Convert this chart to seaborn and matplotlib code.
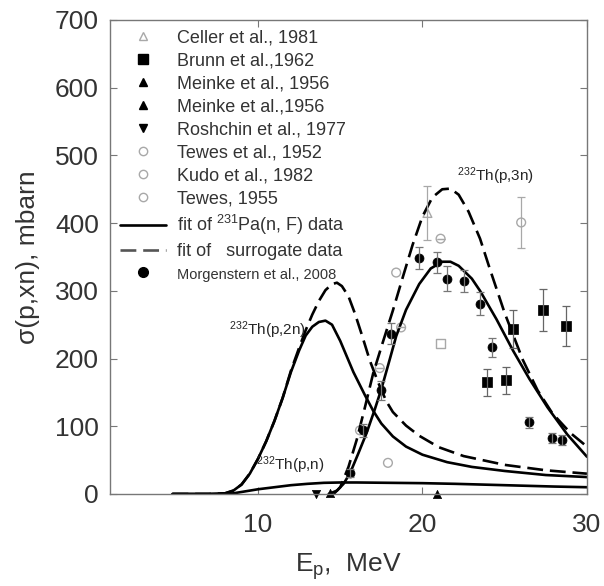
import matplotlib
matplotlib.use("Agg")
import matplotlib.pyplot as plt
from matplotlib.lines import Line2D
import seaborn as sns

sns.set_style("ticks")
plt.rcParams["font.family"] = ["Liberation Sans", "DejaVu Sans"]
plt.rcParams["mathtext.default"] = "regular"

# ---- fitted excitation functions (E_p in MeV, sigma in mbarn) ----
p2n_fit_E = [4.8, 7.0, 8.0, 8.5, 9.0, 9.5, 10.0, 10.5, 11.0, 11.5, 12.0, 12.5, 12.9, 13.3,
             13.7, 14.1, 14.5, 15.0, 15.8, 16.5, 17.0, 17.5, 18.2, 19.0, 20.0, 21.5, 23.0,
             25.0, 27.5, 30.0]
p2n_fit_s = [0, 0, 1, 5, 14, 30, 52, 78, 108, 142, 180, 212, 234, 247,
             254, 256, 250, 226, 180, 146, 123, 104, 85, 70, 58, 47, 40,
             34, 28, 25]

p2n_sur_E = [4.8, 7.0, 8.0, 8.5, 9.0, 9.5, 10.0, 10.5, 11.0, 11.5, 12.0, 12.5, 12.9, 13.3,
             13.7, 14.1, 14.5, 14.8, 15.1, 15.5, 15.9, 16.3, 16.8, 17.3, 17.8, 18.2, 19.0,
             19.8, 21.0, 22.5, 25.0, 27.5, 30.0]
p2n_sur_s = [0, 0, 1, 5, 14, 30, 52, 78, 108, 142, 182, 216, 242, 265,
             285, 301, 310, 312, 307, 292, 266, 236, 197, 165, 137, 121, 101,
             86, 69, 56, 43, 35, 30]

p3n_fit_E = [14.3, 14.8, 15.2, 15.6, 16.1, 16.6, 17.1, 17.5, 18.0, 18.4, 19.0, 19.8, 20.5,
             21.2, 21.7, 22.2, 23.0, 23.5, 24.5, 25.5, 26.5, 27.6, 28.8, 30.0]
p3n_fit_s = [0, 5, 15, 31, 60, 90, 125, 155, 198, 233, 272, 310, 333,
             343, 343, 337, 318, 300, 258, 212, 170, 128, 88, 55]

p3n_sur_E = [14.6, 15.0, 15.5, 16.0, 16.5, 17.0, 17.6, 18.2, 18.8, 19.4, 20.0, 20.6, 21.2,
             21.7, 22.2, 22.8, 23.5, 24.1, 25.0, 26.1, 27.0, 27.9, 29.0, 30.0]
p3n_sur_s = [0, 10, 40, 80, 128, 178, 225, 271, 320, 368, 410, 438, 450,
             451, 442, 417, 377, 332, 267, 198, 153, 119, 90, 70]

pn_fit_E = [4.8, 8.0, 8.5, 9.0, 10.0, 11.0, 12.0, 13.0, 14.0, 15.0, 16.0, 18.0, 20.0,
            22.0, 25.0, 28.0, 30.0]
pn_fit_s = [0, 0, 1, 3, 7, 10, 13, 15, 16.5, 17, 17, 16.5, 16, 15, 13, 11, 10]

# ---- measured cross sections ----
celler_E, celler_s, celler_err = [20.3], [415], [40]
brunn_E = [23.9, 25.1, 25.5, 27.3, 28.7]
brunn_s = [165, 168, 244, 271, 248]
brunn_err = [20, 20, 28, 31, 30]
meinke_a_E, meinke_a_s = [14.4], [2]
meinke_b_E, meinke_b_s = [20.9], [0]
roshchin_E, roshchin_s = [13.5], [0]
tewes52_E = [17.4, 18.7, 21.1, 26.0]
tewes52_s = [186, 246, 377, 401]
tewes52_err = [0, 0, 0, 37]
kudo_E = [16.2, 18.4, 17.9]
kudo_s = [94, 327, 46]
tewes55_E, tewes55_s = [21.1], [222]
morg_E = [15.6, 16.4, 17.5, 18.1, 19.8, 20.9, 21.5, 22.5, 23.5, 24.2, 26.5, 27.9, 28.5]
morg_s = [31, 94, 153, 237, 349, 342, 318, 315, 281, 217, 106, 83, 80]
morg_err = [6, 10, 14, 16, 16, 16, 18, 16, 17, 14, 8, 7, 7]

legend_labels = ["Celler et al., 1981", "Brunn et al.,1962", "Meinke et al., 1956",
                 "Meinke et al.,1956", "Roshchin et al., 1977", "Tewes et al., 1952",
                 "Kudo et al., 1982", "Tewes, 1955", "fit of $^{231}$Pa(n, F) data",
                 "fit of   surrogate data", "Morgenstern et al., 2008"]

x_ticks = [10, 20, 30]
y_ticks = [0, 100, 200, 300, 400, 500, 600, 700]

GREY = "#a8a8a8"
DASH = (0, (6, 2.6))

fig = plt.figure(figsize=(6.04, 5.86), dpi=100)
ax = fig.add_axes([0.1821, 0.157, 0.7897, 0.8089])

# fitted curves
for E, s, ls in [(p2n_fit_E, p2n_fit_s, "-"), (p2n_sur_E, p2n_sur_s, DASH),
                 (p3n_fit_E, p3n_fit_s, "-"), (p3n_sur_E, p3n_sur_s, DASH),
                 (pn_fit_E, pn_fit_s, "-")]:
    sns.lineplot(x=E, y=s, ax=ax, color="black", linewidth=1.9, linestyle=ls)

# error bars
ax.errorbar(brunn_E, brunn_s, yerr=brunn_err, fmt="none", ecolor="#666666",
            elinewidth=0.9, capsize=3, capthick=0.9)
ax.errorbar(morg_E, morg_s, yerr=morg_err, fmt="none", ecolor="#777777",
            elinewidth=0.9, capsize=3, capthick=0.9)
ax.errorbar(tewes52_E, tewes52_s, yerr=tewes52_err, fmt="none", ecolor=GREY,
            elinewidth=0.9, capsize=3, capthick=0.9)
ax.errorbar(celler_E, celler_s, yerr=celler_err, fmt="none", ecolor=GREY,
            elinewidth=0.9, capsize=3, capthick=0.9)

# open (grey) symbols
sns.scatterplot(x=celler_E, y=celler_s, ax=ax, marker="^", s=40,
                facecolors="none", edgecolors=GREY, linewidth=1)
sns.scatterplot(x=tewes52_E, y=tewes52_s, ax=ax, marker="o", s=40,
                facecolors="none", edgecolors=GREY, linewidth=1)
sns.scatterplot(x=kudo_E, y=kudo_s, ax=ax, marker="o", s=40,
                facecolors="none", edgecolors=GREY, linewidth=1)
sns.scatterplot(x=tewes55_E, y=tewes55_s, ax=ax, marker="s", s=40,
                facecolors="none", edgecolors=GREY, linewidth=1)

# filled (black) symbols
sns.scatterplot(x=brunn_E, y=brunn_s, ax=ax, marker="s", s=50, color="black",
                edgecolor="black", linewidth=0.5)
sns.scatterplot(x=morg_E, y=morg_s, ax=ax, marker="o", s=42, color="black",
                edgecolor="black", linewidth=0.5)
sns.scatterplot(x=meinke_a_E, y=meinke_a_s, ax=ax, marker="^", s=35, color="black",
                edgecolor="black", linewidth=0.5, clip_on=False)
sns.scatterplot(x=meinke_b_E, y=meinke_b_s, ax=ax, marker="^", s=35, color="black",
                edgecolor="black", linewidth=0.5, clip_on=False)
sns.scatterplot(x=roshchin_E, y=roshchin_s, ax=ax, marker="v", s=35, color="black",
                edgecolor="black", linewidth=0.5, clip_on=False)

# reaction labels
ax.text(12.9, 242, "$^{232}$Th(p,2n)", fontsize=11, ha="right", va="center")
ax.text(9.9, 42, "$^{232}$Th(p,n)", fontsize=11, ha="left", va="center")
ax.text(22.1, 469, "$^{232}$Th(p,3n)", fontsize=11, ha="left", va="center")

ax.set_xlim(1, 30)
ax.set_ylim(0, 700)
ax.set_xticks(x_ticks)
ax.set_yticks(y_ticks)
ax.tick_params(direction="in", top=True, right=True, length=5, width=0.8,
               color="#777777", labelsize=19, labelcolor="#333333")
ax.tick_params(axis="x", pad=14)
ax.tick_params(axis="y", pad=8)
for sp in ax.spines.values():
    sp.set_color("#777777")
    sp.set_linewidth(1.0)

ax.set_xlabel("E$_p$,  MeV", fontsize=19, color="#333333", labelpad=10)
ax.set_ylabel("σ(p,xn), mbarn", fontsize=19, color="#333333", labelpad=11)

# legend
handles = [
    Line2D([], [], ls="none", marker="^", ms=6, mfc="none", mec=GREY),
    Line2D([], [], ls="none", marker="s", ms=7, color="black"),
    Line2D([], [], ls="none", marker="^", ms=6, color="black"),
    Line2D([], [], ls="none", marker="^", ms=6, color="black"),
    Line2D([], [], ls="none", marker="v", ms=6, color="black"),
    Line2D([], [], ls="none", marker="o", ms=6, mfc="none", mec=GREY),
    Line2D([], [], ls="none", marker="o", ms=6, mfc="none", mec=GREY),
    Line2D([], [], ls="none", marker="o", ms=6, mfc="none", mec=GREY),
    Line2D([], [], color="black", lw=1.9),
    Line2D([], [], color="#555555", lw=1.9, ls=DASH),
    Line2D([], [], ls="none", marker="o", ms=7, color="black"),
]
leg = ax.legend(handles, legend_labels, loc="upper left", bbox_to_anchor=(0.02, 0.98),
                frameon=False, fontsize=13, handlelength=2.6, handletextpad=0.6,
                labelspacing=0.33, borderpad=0, borderaxespad=0)
for t in leg.get_texts():
    t.set_color("#333333")
leg.get_texts()[-1].set_fontsize(10.5)

fig.savefig("out.png", dpi=100)
